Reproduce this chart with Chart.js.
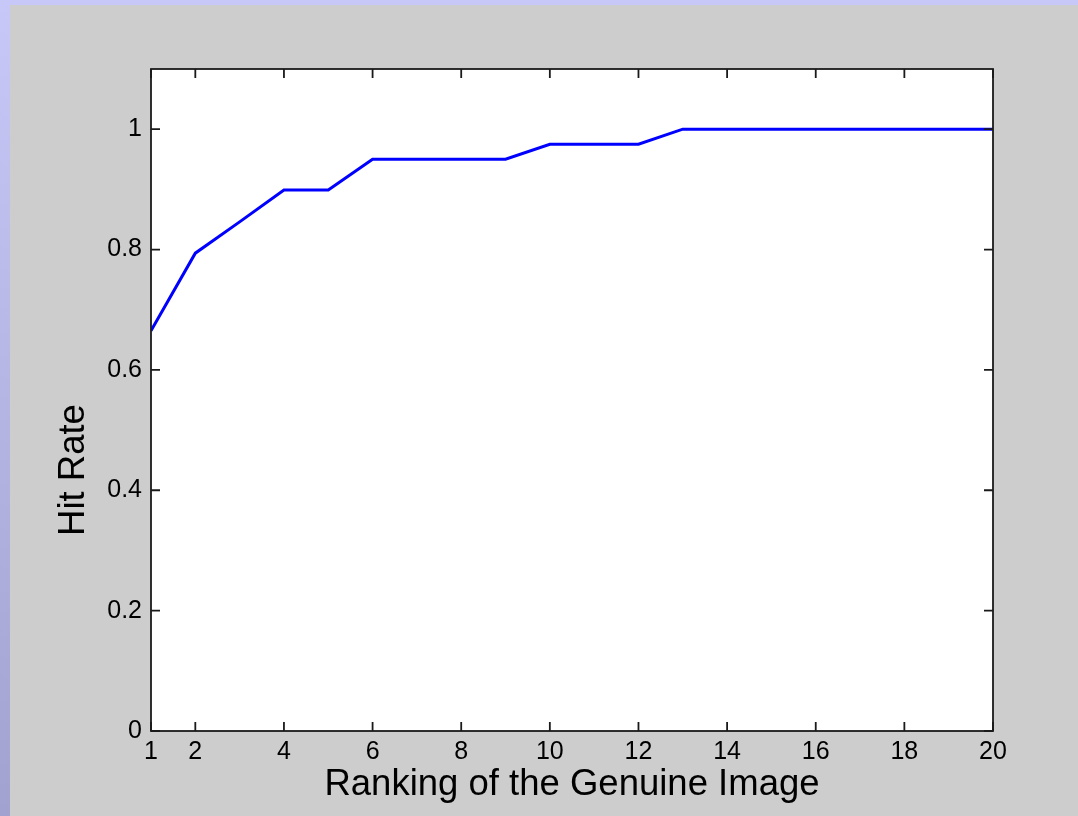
<!DOCTYPE html>
<html>
<head>
<meta charset="utf-8">
<script src="https://cdn.jsdelivr.net/npm/chart.js@4"></script>
<style>
  html, body { margin: 0; padding: 0; width: 1078px; height: 816px; overflow: hidden; }
  body { background: linear-gradient(to bottom, #c8c8f8, #a2a2d0); }
  #frame { position: absolute; left: 10px; top: 5px; width: 1068px; height: 811px; background: #cdcdcd; }
</style>
</head>
<body>
<div id="frame"><canvas id="c"></canvas></div>
<script>
// ── data ──────────────────────────────────────────────────────────────────────
var ranks   = [1, 2, 3, 4, 5, 6, 7, 8, 9, 10, 11, 12, 13, 14, 15, 16, 17, 18, 19, 20];
var hitRate = [0.665, 0.794, 0.846, 0.899, 0.899, 0.950, 0.950, 0.950, 0.950, 0.975,
               0.975, 0.975, 1.0, 1.0, 1.0, 1.0, 1.0, 1.0, 1.0, 1.0];
var xTicks  = [1, 2, 4, 6, 8, 10, 12, 14, 16, 18, 20];
var yTicks  = [0, 0.2, 0.4, 0.6, 0.8, 1];

var TICK_FONT = { family: "'Liberation Sans', Arial, sans-serif", size: 25 };
var TITLE_FAMILY = "'Liberation Sans', Arial, sans-serif";
var TITLE_SIZE = 36.5;

// MATLAB-style box: white plot area, inward ticks on all four sides, y label
var boxPlugin = {
  id: "box",
  beforeDraw: function (chart) {
    var a = chart.chartArea, ctx = chart.ctx;
    ctx.save();
    ctx.fillStyle = "#ffffff";
    ctx.fillRect(a.left, a.top, a.right - a.left, a.bottom - a.top);
    ctx.restore();
  },
  afterDraw: function (chart) {
    var a = chart.chartArea, ctx = chart.ctx;
    var xs = chart.scales.x, ys = chart.scales.y, len = 9;
    ctx.save();
    ctx.strokeStyle = "#1a1a1a";
    ctx.lineWidth = 1.8;
    ctx.strokeRect(a.left, a.top, a.right - a.left, a.bottom - a.top);
    ctx.beginPath();
    xTicks.forEach(function (v) {
      var px = xs.getPixelForValue(v);
      ctx.moveTo(px, a.bottom); ctx.lineTo(px, a.bottom - len);
      ctx.moveTo(px, a.top);    ctx.lineTo(px, a.top + len);
    });
    yTicks.forEach(function (v) {
      var py = ys.getPixelForValue(v);
      ctx.moveTo(a.left, py);  ctx.lineTo(a.left + len, py);
      ctx.moveTo(a.right, py); ctx.lineTo(a.right - len, py);
    });
    ctx.stroke();

    // y-axis title (MATLAB places it slightly below the axis middle)
    ctx.translate(64, (a.top + a.bottom) / 2 + 70);
    ctx.rotate(-Math.PI / 2);
    ctx.fillStyle = "#000";
    ctx.font = TITLE_SIZE + "px " + TITLE_FAMILY;
    ctx.textAlign = "center";
    ctx.textBaseline = "middle";
    ctx.fillText("Hit Rate", 0, 0);
    ctx.restore();
  }
};

new Chart(document.getElementById("c"), {
  type: "line",
  data: {
    datasets: [{
      label: "Hit Rate",
      data: ranks.map(function (r, i) { return { x: r, y: hitRate[i] }; }),
      borderColor: "#0000ff",
      borderWidth: 3,
      pointRadius: 0,
      tension: 0,
      fill: false
    }]
  },
  options: {
    responsive: true,
    maintainAspectRatio: false,
    animation: false,
    layout: { padding: { left: 0, top: 64, right: 85, bottom: 0 } },
    plugins: { legend: { display: false }, tooltip: { enabled: false } },
    scales: {
      x: {
        type: "linear", min: 1, max: 20,
        grid: { display: false, drawTicks: false }, border: { display: false },
        afterBuildTicks: function (s) { s.ticks = xTicks.map(function (v) { return { value: v }; }); },
        afterFit: function (s) { s.height = 85; },
        ticks: { color: "#000", font: TICK_FONT, padding: 6, maxRotation: 0, autoSkip: false },
        title: { display: true, text: "Ranking of the Genuine Image", color: "#000",
                 font: { family: TITLE_FAMILY, size: TITLE_SIZE }, padding: { top: 0, bottom: 9 } }
      },
      y: {
        min: 0, max: 1.1,
        grid: { display: false, drawTicks: false }, border: { display: false },
        afterBuildTicks: function (s) { s.ticks = yTicks.map(function (v) { return { value: v }; }); },
        afterFit: function (s) { s.width = 141; },
        ticks: { color: "#000", font: TICK_FONT, padding: 9,
                 callback: function (v) { return String(Math.round(v * 10) / 10); } }
      }
    }
  },
  plugins: [boxPlugin]
});
</script>
</body>
</html>
